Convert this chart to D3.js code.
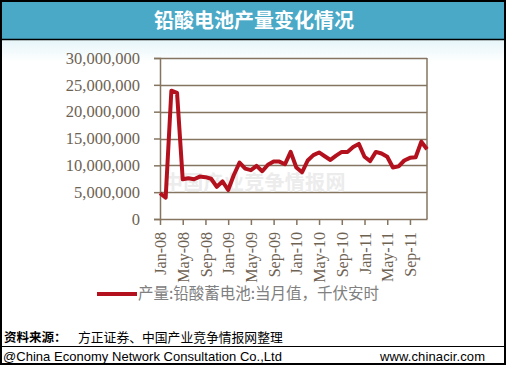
<!DOCTYPE html>
<html><head><meta charset="utf-8">
<script src="https://cdn.jsdelivr.net/npm/d3@7"></script>
<style>
html,body{margin:0;padding:0;background:#fff;}
svg{display:block;}
</style></head>
<body>
<svg id="c" width="509" height="368"></svg>
<script>
const title = "铅酸电池产量变化情况";
const months = [
 "Jan-08","Feb-08","Mar-08","Apr-08","May-08","Jun-08","Jul-08","Aug-08","Sep-08","Oct-08","Nov-08","Dec-08",
 "Jan-09","Feb-09","Mar-09","Apr-09","May-09","Jun-09","Jul-09","Aug-09","Sep-09","Oct-09","Nov-09","Dec-09",
 "Jan-10","Feb-10","Mar-10","Apr-10","May-10","Jun-10","Jul-10","Aug-10","Sep-10","Oct-10","Nov-10","Dec-10",
 "Jan-11","Feb-11","Mar-11","Apr-11","May-11","Jun-11","Jul-11","Aug-11","Sep-11","Oct-11","Nov-11","Dec-11"];
const output = [
 4800000,4000000,23900000,23500000,7400000,7600000,7400000,7900000,7800000,7500000,6000000,7000000,
 5400000,8200000,10500000,9400000,9100000,9900000,8900000,10100000,10700000,10700000,10200000,12500000,
 9600000,8700000,10900000,11900000,12400000,11700000,11000000,11800000,12500000,12500000,13400000,14000000,
 11600000,10800000,12500000,12200000,11600000,9600000,9800000,10900000,11400000,11500000,14400000,13000000];
const yTicks = [0,5000000,10000000,15000000,20000000,25000000,30000000];
const xTickLabels = ["Jan-08","May-08","Sep-08","Jan-09","May-09","Sep-09","Jan-10","May-10","Sep-10","Jan-11","May-11","Sep-11"];
const legendLabel = "产量:铅酸蓄电池:当月值，千伏安时";
const sourceLabel = "资料来源：";
const sourceText = "方正证券、中国产业竞争情报网整理";
const copyright = "@China Economy Network Consultation Co.,Ltd";
const website = "www.chinacir.com";
const watermark = "中国产业竞争情报网";

const svg = d3.select("#c");
const axisCol = "#85745f", textCol = "#6e6253", lineCol = "#b2111d";

const defs = svg.append("defs");
const g1 = defs.append("linearGradient").attr("id","bg").attr("x1",0).attr("y1",0).attr("x2",0).attr("y2",1);
g1.append("stop").attr("offset","0%").attr("stop-color","#e6f5f9");
g1.append("stop").attr("offset","100%").attr("stop-color","#ffffff");
svg.append("rect").attr("x",1).attr("y",40).attr("width",504).attr("height",22).attr("fill","url(#bg)");

svg.append("rect").attr("x",1).attr("y",1).attr("width",504).attr("height",38).attr("fill","#4aa9c6");
svg.append("line").attr("x1",0).attr("x2",506).attr("y1",39.5).attr("y2",39.5).attr("stroke","#000").attr("stroke-width",1.5);
svg.append("text").attr("x",254).attr("y",28).attr("text-anchor","middle")
  .attr("font-family","Noto Sans CJK SC").attr("font-weight","bold").attr("font-size",20)
  .attr("fill","#fff").text(title);

const x = d3.scalePoint().domain(months).range([160,427]);
const y = d3.scaleLinear().domain([0,30000000]).range([219,58]);

svg.append("g").selectAll("line").data(yTicks.filter(d=>d>0)).join("line")
  .attr("x1",160).attr("x2",427).attr("y1",d=>Math.round(y(d))+0.5).attr("y2",d=>Math.round(y(d))+0.5)
  .attr("stroke",axisCol).attr("stroke-width",1.5);
svg.append("line").attr("x1",427).attr("x2",427).attr("y1",y(30000000)).attr("y2",219)
  .attr("stroke",axisCol).attr("stroke-width",1.5);

svg.append("text").attr("x",163).attr("y",190).attr("font-family","Noto Sans CJK SC").attr("font-weight","bold")
  .attr("font-size",20).attr("fill","#ececec").attr("letter-spacing",0.3).text(watermark);

const ya = svg.append("g").attr("transform","translate(160,0)")
  .call(d3.axisLeft(y).tickValues(yTicks).tickSize(6).tickPadding(14).tickFormat(d3.format(",")));
ya.select(".domain").attr("stroke",axisCol).attr("stroke-width",1.5);
ya.selectAll(".tick line").attr("stroke",axisCol).attr("stroke-width",1.5);
ya.selectAll("text").attr("font-family","Liberation Serif").attr("font-size",16.5).attr("fill",textCol);

const xa = svg.append("g").attr("transform","translate(0,219)")
  .call(d3.axisBottom(x).tickValues(xTickLabels).tickSize(6).tickSizeOuter(0));
xa.select(".domain").attr("stroke",axisCol).attr("stroke-width",1.5);
xa.selectAll(".tick line").attr("stroke",axisCol).attr("stroke-width",1.5);
xa.selectAll("text").attr("font-family","Liberation Serif").attr("font-size",16).attr("fill",textCol)
  .attr("transform","rotate(-90)").attr("text-anchor","end").attr("dx","-13").attr("dy","0.35em").attr("y",0).attr("x",0);

const line = d3.line().x((d,i)=>x(months[i])).y(d=>y(d));
svg.append("path").datum(output).attr("d",line).attr("fill","none")
  .attr("stroke",lineCol).attr("stroke-width",4).attr("stroke-linejoin","round");

svg.append("line").attr("x1",97).attr("x2",137).attr("y1",294).attr("y2",294).attr("stroke",lineCol).attr("stroke-width",4);
svg.append("text").attr("x",138).attr("y",299).attr("font-family","Noto Sans CJK SC").attr("font-size",15.5)
  .attr("fill","#808080").text(legendLabel);

svg.append("text").attr("x",4).attr("y",342).attr("font-family","Noto Sans CJK SC").attr("font-weight","bold")
  .attr("font-size",12.5).attr("fill","#000").text(sourceLabel);
svg.append("text").attr("x",78).attr("y",342).attr("font-family","Noto Sans CJK SC")
  .attr("font-size",12.8).attr("fill","#000").text(sourceText);
svg.append("line").attr("x1",0).attr("x2",506).attr("y1",346.5).attr("y2",346.5).attr("stroke","#000").attr("stroke-width",1);
svg.append("text").attr("x",3).attr("y",361).attr("font-family","Liberation Sans")
  .attr("font-size",13).attr("fill","#000").attr("textLength",279).text(copyright);
svg.append("text").attr("x",380).attr("y",361).attr("font-family","Liberation Sans")
  .attr("font-size",13).attr("fill","#000").attr("textLength",105).text(website);

svg.append("rect").attr("x",1).attr("y",1).attr("width",504).attr("height",363)
  .attr("fill","none").attr("stroke","#000").attr("stroke-width",2);
</script>
</body></html>
